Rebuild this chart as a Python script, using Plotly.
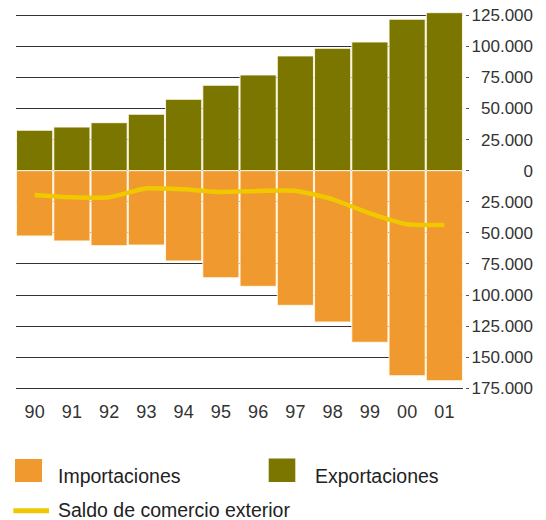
import plotly.graph_objects as go

years = ["90", "91", "92", "93", "94", "95", "96", "97", "98", "99", "00", "01"]
exportaciones = [32500, 35100, 38600, 45400, 57400, 68700, 77000, 92300, 98400, 103500, 121800, 127100]
importaciones = [52500, 56500, 60300, 59800, 72600, 86100, 93000, 108300, 121700, 138000, 164900, 168900]
saldo = [-19500, -21400, -21400, -14200, -15000, -17100, -16300, -16100, -23000, -34300, -43100, -43700]

tick_vals = [-175000, -150000, -125000, -100000, -75000, -50000, -25000, 0,
             25000, 50000, 75000, 100000, 125000]
tick_text = ["175.000", "150.000", "125.000", "100.000", "75.000", "50.000", "25.000", "0",
             "25.000", "50.000", "75.000", "100.000", "125.000"]

ORANGE = "#f0992e"
OLIVE = "#7a7600"
YELLOW = "#f0c800"
TEXT = "#333333"
FONT = "Liberation Sans, Arial, sans-serif"

W, H = 546, 520
ML, MR, MT, MB = 16, 0, 12, 130
PW = W - ML - MR
PH = H - MT - MB
YR = [-176400, 127640]


def px(x):
    return (x - ML) / PW


def py(y):
    return (H - MB - y) / PH


OUTLINE = dict(color="rgba(255,250,232,0.9)", width=1)

fig = go.Figure()
fig.add_trace(go.Bar(
    x=years, y=exportaciones, name="Exportaciones",
    marker=dict(color=OLIVE, line=OUTLINE), showlegend=False,
))
fig.add_trace(go.Bar(
    x=years, y=[-v for v in importaciones], name="Importaciones",
    marker=dict(color=ORANGE, line=OUTLINE), showlegend=False,
))
fig.add_trace(go.Scatter(
    x=years, y=saldo, name="Saldo de comercio exterior", mode="lines",
    line=dict(color=YELLOW, width=4.5, shape="spline", smoothing=0.5),
    yaxis="y2", showlegend=False,
))

fig.update_layout(
    width=W, height=H,
    margin=dict(l=ML, r=MR, t=MT, b=MB),
    paper_bgcolor="white", plot_bgcolor="white",
    barmode="relative", bargap=0.03,
    font=dict(family=FONT, color=TEXT, size=17),
    xaxis=dict(
        domain=[0, px(463)], type="category",
        showgrid=False, zeroline=False, showline=False,
        ticks="", tickfont=dict(size=18, color=TEXT),
        ticklabelstandoff=9,
    ),
    yaxis=dict(
        range=YR, anchor="free", position=px(465), side="right",
        tickvals=tick_vals, showticklabels=False,
        ticks="outside", ticklen=3, tickcolor="#555555", tickwidth=1,
        showgrid=True, gridcolor="#333333", gridwidth=1.2,
        zeroline=False, showline=False,
    ),
    yaxis2=dict(
        range=YR, overlaying="y", anchor="free", position=px(533), side="left",
        tickvals=tick_vals, ticktext=tick_text, ticks="",
        tickfont=dict(size=17, color=TEXT),
        showgrid=False, zeroline=False, showline=False,
    ),
)

# custom legend
fig.add_shape(type="rect", xref="paper", yref="paper",
              x0=px(15), x1=px(42), y0=py(482), y1=py(459),
              fillcolor=ORANGE, line=dict(width=0))
fig.add_shape(type="rect", xref="paper", yref="paper",
              x0=px(268.7), x1=px(295.3), y0=py(482), y1=py(458.5),
              fillcolor=OLIVE, line=dict(width=0))
fig.add_shape(type="line", xref="paper", yref="paper",
              x0=px(13.3), x1=px(49), y0=py(510.8), y1=py(510.8),
              line=dict(color=YELLOW, width=5))
for label, x, y in [("Importaciones", 56, 476), ("Exportaciones", 313, 476),
                    ("Saldo de comercio exterior", 56, 510)]:
    fig.add_annotation(text=label, xref="paper", yref="paper",
                       x=px(x), y=py(y), xanchor="left", yanchor="middle",
                       showarrow=False, font=dict(size=19.5, color="#222222"))

fig.write_html("out.html", config={"displayModeBar": False},
               post_script="document.body.style.margin='0';")
